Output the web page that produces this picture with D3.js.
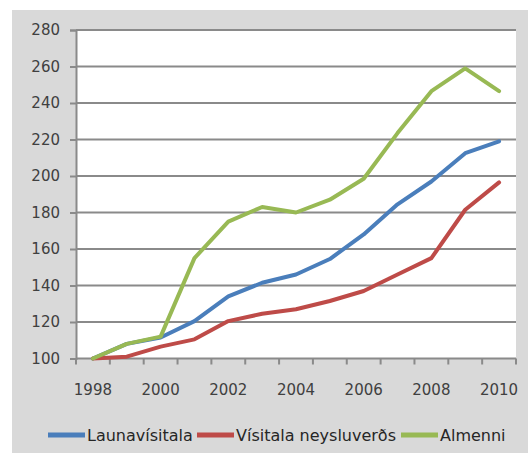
<!DOCTYPE html>
<html>
<head>
<meta charset="utf-8">
<script src="https://d3js.org/d3.v7.min.js"></script>
<style>
  body { margin: 0; background: #fff; }
  text { font-family: "DejaVu Sans", sans-serif; }
</style>
</head>
<body>
<div id="chartContainer"></div>
<script>
// data
var years = [1998, 1999, 2000, 2001, 2002, 2003, 2004, 2005, 2006, 2007, 2008, 2009, 2010];
var yearLabels = [1998, 2000, 2002, 2004, 2006, 2008, 2010];
var yTicks = [100, 120, 140, 160, 180, 200, 220, 240, 260, 280];
var seriesNames = ["Launavísitala", "Vísitala neysluverðs", "Almenni"];
var launavisitala = [100, 108, 111.5, 120.5, 134, 141.5, 146, 154.5, 168, 184.5, 197, 212.5, 219];
var neysluverd = [100, 101, 106.5, 110.5, 120.5, 124.5, 127, 131.5, 137, 146, 155, 181.5, 196.5];
var almenni = [100, 108, 112, 155, 175, 183, 180, 187, 198.5, 223.5, 246.5, 259, 246.5];
var colors = ["#4a7ebb", "#be4b48", "#98b954"];

var W = 528, H = 455;
var svg = d3.select("#chartContainer").append("svg")
  .attr("width", W).attr("height", H);

// grey chart panel
svg.append("rect")
  .attr("x", 12).attr("y", 10).attr("width", W - 12).attr("height", 443)
  .attr("fill", "#d9d9d9");

var plotL = 76, plotR = 516, plotT = 30, plotB = 358.5;
svg.append("rect")
  .attr("x", plotL).attr("y", plotT).attr("width", plotR - plotL).attr("height", plotB - plotT)
  .attr("fill", "#fff");

var x = d3.scaleBand().domain(years).range([plotL, plotR]);
var y = d3.scaleLinear().domain([100, 280]).range([plotB, plotT]);
var cx = function(d) { return x(d) + x.bandwidth() / 2; };

// gridlines
svg.append("g").selectAll("line")
  .data(yTicks.slice(1))
  .enter().append("line")
  .attr("x1", plotL).attr("x2", plotR)
  .attr("y1", function(d) { return y(d); })
  .attr("y2", function(d) { return y(d); })
  .attr("stroke", "#8a8a8a").attr("stroke-width", 2);

// y axis
var yAxis = svg.append("g")
  .attr("transform", "translate(" + plotL + ",0)")
  .call(d3.axisLeft(y).tickValues(yTicks).tickSize(6).tickPadding(10));
yAxis.select(".domain").attr("stroke", "#8a8a8a").attr("stroke-width", 2);
yAxis.selectAll(".tick line").attr("stroke", "#8a8a8a").attr("stroke-width", 2);
yAxis.selectAll("text")
  .style("font-size", "15px").attr("fill", "#404040");

// x axis: tick marks between categories, labels every second year
var xAxis = svg.append("g").attr("transform", "translate(0," + plotB + ")");
xAxis.append("line")
  .attr("x1", plotL).attr("x2", plotR)
  .attr("stroke", "#8a8a8a").attr("stroke-width", 2);
xAxis.selectAll(".xt")
  .data(years.concat(["end"]))
  .enter().append("line")
  .attr("class", "xt")
  .attr("x1", function(d) { return d === "end" ? plotR : x(d); })
  .attr("x2", function(d) { return d === "end" ? plotR : x(d); })
  .attr("y1", 0).attr("y2", 6)
  .attr("stroke", "#8a8a8a").attr("stroke-width", 2);
xAxis.selectAll(".xl")
  .data(yearLabels)
  .enter().append("text")
  .attr("class", "xl")
  .attr("x", cx)
  .attr("y", 36)
  .attr("text-anchor", "middle")
  .style("font-size", "15px")
  .attr("fill", "#404040")
  .text(function(d) { return d; });

// lines
var line = d3.line()
  .x(function(d, i) { return cx(years[i]); })
  .y(function(d) { return y(d); });

[launavisitala, neysluverd, almenni].forEach(function(s, i) {
  svg.append("path")
    .datum(s)
    .attr("d", line)
    .attr("fill", "none")
    .attr("stroke", colors[i])
    .attr("stroke-width", 4)
    .attr("stroke-linejoin", "round")
    .attr("stroke-linecap", "round");
});

// legend
var legendX = [48, 197, 401];
var legend = svg.append("g").selectAll("g")
  .data(seriesNames)
  .enter().append("g")
  .attr("transform", function(d, i) { return "translate(" + legendX[i] + ",435)"; });
legend.append("line")
  .attr("x1", 0).attr("x2", 37)
  .attr("stroke", function(d, i) { return colors[i]; })
  .attr("stroke-width", 5);
legend.append("text")
  .attr("x", 39).attr("y", 6)
  .style("font-size", "16px")
  .attr("fill", "#262626")
  .text(function(d) { return d; });
</script>
</body>
</html>
